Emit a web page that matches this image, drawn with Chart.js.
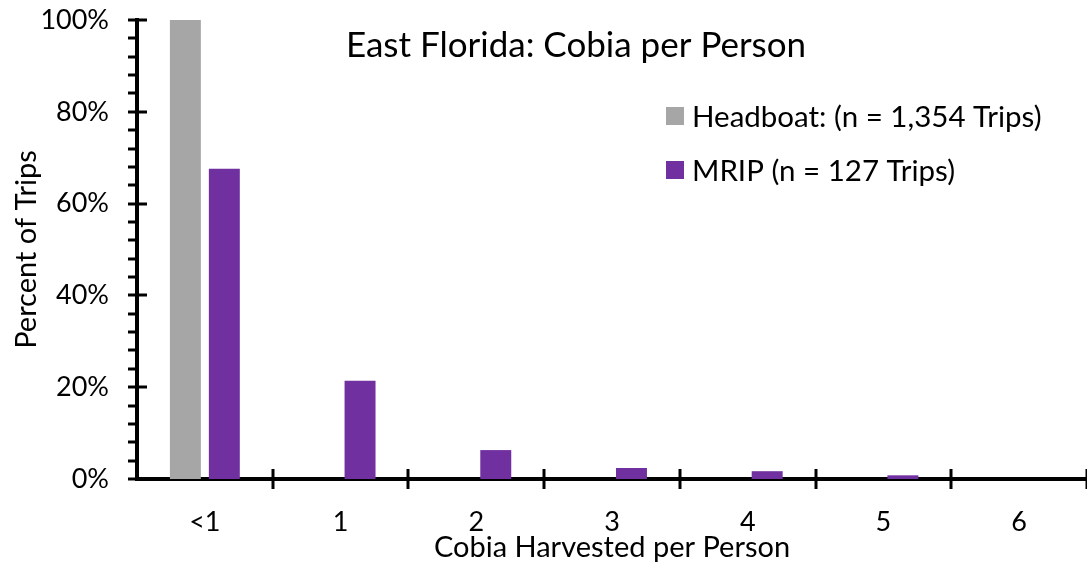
<!DOCTYPE html>
<html>
<head>
<meta charset="utf-8">
<script src="https://cdn.jsdelivr.net/npm/chart.js@4/dist/chart.umd.min.js"></script>
<style>
  body { margin: 0; background: #fff; }
  canvas { display: block; }
</style>
</head>
<body>
<canvas id="cobiaChart" width="1087" height="569"></canvas>
<script>
const categories = ["<1", "1", "2", "3", "4", "5", "6"];
const headboatValues = [100, 0, 0, 0, 0, 0, 0];
const mripValues = [67.6, 21.4, 6.3, 2.4, 1.7, 0.8, 0];
const yTickValues = [0, 20, 40, 60, 80, 100];

const chartTitle = "East Florida: Cobia per Person";
const seriesNames = ["Headboat: (n = 1,354 Trips)", "MRIP (n = 127 Trips)"];
const seriesColors = ["#A6A6A6", "#7030A0"];
const fontFamily = "Lato, 'Noto Sans', sans-serif";

// axis ticks (crossing the axis lines), title and legend drawn on top
const decorPlugin = {
  id: "decor",
  afterDraw(chart) {
    const ctx = chart.ctx;
    const x = chart.scales.x;
    const y = chart.scales.y;
    ctx.save();
    ctx.strokeStyle = "#000";
    ctx.lineWidth = 3;
    for (let v = 0; v <= 100; v += 4) {
      const py = Math.round(y.getPixelForValue(v));
      const major = yTickValues.includes(v);
      ctx.beginPath();
      ctx.moveTo(x.left - 9, py);
      ctx.lineTo(major ? x.left + 10 : x.left, py);
      ctx.stroke();
    }
    for (let i = 1; i <= categories.length; i++) {
      const px = Math.round(x.getPixelForValue(i - 0.5));
      ctx.beginPath();
      ctx.moveTo(px, y.bottom - 10);
      ctx.lineTo(px, y.bottom + 10);
      ctx.stroke();
    }

    ctx.fillStyle = "#000";
    ctx.textBaseline = "middle";
    ctx.font = "35px " + fontFamily;
    ctx.textAlign = "center";
    ctx.fillText(chartTitle, 576, 46);

    ctx.textAlign = "left";
    ctx.font = "29.5px " + fontFamily;
    const rows = [116, 170];
    seriesNames.forEach((name, i) => {
      ctx.fillStyle = seriesColors[i];
      ctx.fillRect(666, rows[i] - 9, 18, 18);
      ctx.fillStyle = "#000";
      ctx.fillText(name, 692, rows[i] + 1);
    });
    ctx.restore();
  }
};

new Chart(document.getElementById("cobiaChart"), {
  type: "bar",
  data: {
    labels: categories,
    datasets: [
      {
        label: seriesNames[0],
        data: headboatValues,
        backgroundColor: seriesColors[0],
        categoryPercentage: 0.574,
        barPercentage: 0.795,
      },
      {
        label: seriesNames[1],
        data: mripValues,
        backgroundColor: seriesColors[1],
        categoryPercentage: 0.574,
        barPercentage: 0.795,
      },
    ],
  },
  options: {
    responsive: false,
    animation: false,
    layout: { padding: { top: 20, right: 0, left: 0, bottom: 0 } },
    plugins: {
      legend: { display: false },
      tooltip: { enabled: false },
    },
    scales: {
      x: {
        grid: { display: false, drawTicks: false },
        border: { display: true, color: "#000", width: 4 },
        ticks: { color: "#000", padding: 27, font: { family: fontFamily, size: 27 } },
        title: {
          display: true,
          text: "Cobia Harvested per Person",
          color: "#000",
          padding: { top: 3, bottom: 4 },
          font: { family: fontFamily, size: 29 },
        },
        afterFit: (s) => { s.height = 90; s.paddingLeft = 0; s.paddingRight = 0; },
      },
      y: {
        min: 0,
        max: 100,
        afterBuildTicks: (s) => { s.ticks = yTickValues.map((v) => ({ value: v })); },
        grid: { display: false, drawTicks: false },
        border: { display: true, color: "#000", width: 4 },
        ticks: {
          color: "#000",
          padding: 28,
          font: { family: fontFamily, size: 27 },
          callback: (v) => v + "%",
        },
        title: {
          display: true,
          text: "Percent of Trips",
          color: "#000",
          padding: { top: 9, bottom: 8 },
          font: { family: fontFamily, size: 29 },
        },
        afterFit: (s) => { s.width = 137; s.paddingTop = 0; s.paddingBottom = 0; },
      },
    },
  },
  plugins: [decorPlugin],
});
</script>
</body>
</html>
